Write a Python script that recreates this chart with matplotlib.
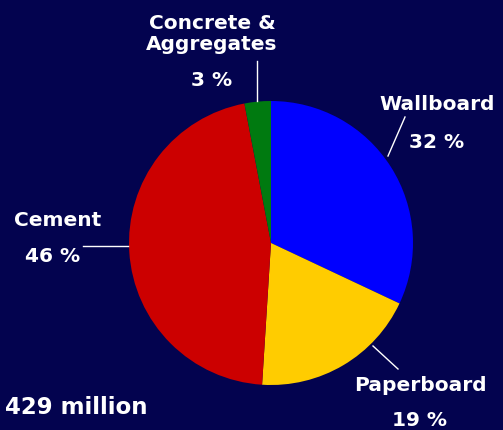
import matplotlib.pyplot as plt

categories = ["Wallboard", "Paperboard", "Cement", "Concrete &\nAggregates"]
shares = [32, 19, 46, 3]
colors = ["#0000ff", "#ffcc00", "#cc0000", "#007a10"]
total_label = "429 million"

W, H = 503, 431
bg = "#03034f"

fig = plt.figure(figsize=(W / 100, H / 100), dpi=100, facecolor=bg)
ax = fig.add_axes([0, 0, 1, 1])
ax.set_facecolor(bg)


def py(y):
    # image pixel row -> data y
    return H - y


ax.pie(
    shares,
    colors=colors,
    startangle=90,
    counterclock=False,
    center=(271, py(244)),
    radius=142,
    wedgeprops={"linewidth": 0},
    frame=True,
)
ax.set_xlim(0, W)
ax.set_ylim(0, H)
ax.set_aspect("equal")
ax.axis("off")

font = {"family": "DejaVu Sans", "weight": "bold", "color": "white", "fontsize": 14.5}

# name position, percent position, leader line (pixel coords)
layout = [
    ((437, 105), (437, 142), ((405, 118), (388, 157))),
    ((420, 386), (420, 421), ((373, 347), (398, 370))),
    ((58, 220), (53, 256), ((83, 247), (128, 247))),
    ((212, 34), (212, 80), ((257, 62), (257, 102))),
]

for name, pct, (npos, ppos, line) in zip(categories, shares, layout):
    ax.text(npos[0], py(npos[1]), name, ha="center", va="center",
            linespacing=1.1, **font)
    ax.text(ppos[0], py(ppos[1]), f"{pct} %", ha="center", va="center", **font)
    (lx0, ly0), (lx1, ly1) = line
    ax.plot([lx0, lx1], [py(ly0), py(ly1)], color="white", linewidth=1)

ax.text(5, py(408), total_label, ha="left", va="center",
        **{**font, "fontsize": 16.5})

fig.savefig("out.png", dpi=100, facecolor=bg)
